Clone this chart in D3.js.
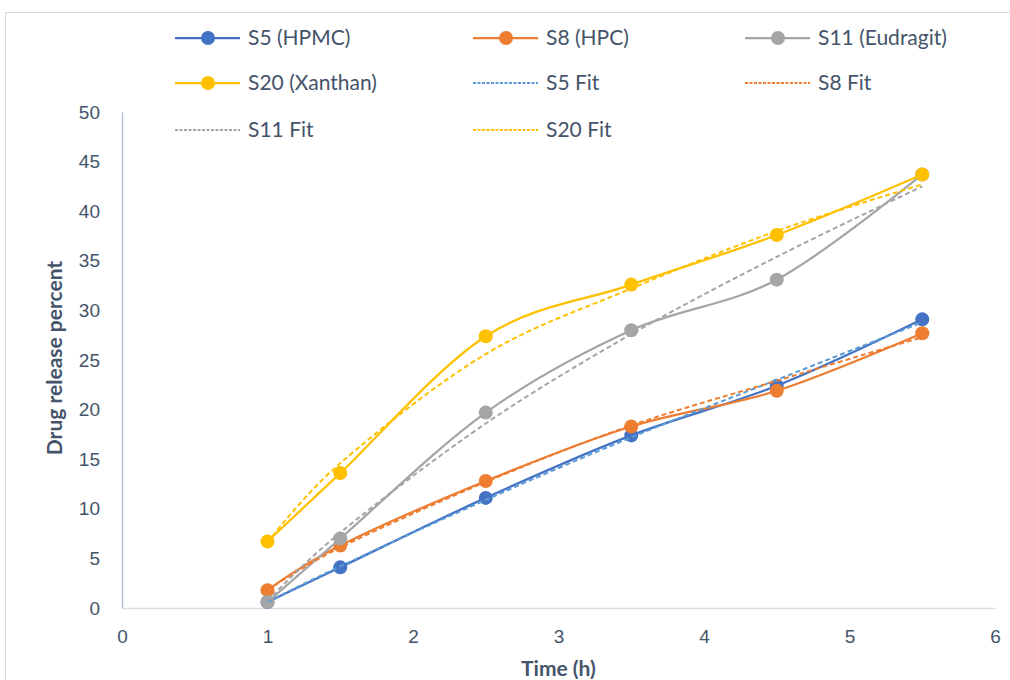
<!DOCTYPE html>
<html>
<head>
<meta charset="utf-8">
<script src="https://cdn.jsdelivr.net/npm/d3@7"></script>
<style>
  body { margin: 0; background: #fff; }
  svg { font-family: Lato, "Open Sans", sans-serif; }
</style>
</head>
<body>
<div id="chart"></div>
<script>
// data
const times = [1, 1.5, 2.5, 3.5, 4.5, 5.5];

const s5 = [0.6, 4.1, 11.1, 17.4, 22.4, 29.1];
const s8 = [1.8, 6.3, 12.8, 18.3, 21.9, 27.7];
const s11 = [0.6, 7.0, 19.7, 28.0, 33.1, 43.7];
const s20 = [6.7, 13.6, 27.4, 32.6, 37.6, 43.7];

const s5Fit = [0.6, 4.2, 10.9, 17.2, 23.0, 28.8];
const s8Fit = [1.8, 6.1, 12.7, 18.4, 22.9, 27.3];
const s11Fit = [0.7, 7.6, 18.6, 27.6, 35.4, 42.5];
const s20Fit = [6.6, 14.6, 25.6, 32.2, 38.0, 42.7];

const xTicks = [0, 1, 2, 3, 4, 5, 6];
const yTicks = [0, 5, 10, 15, 20, 25, 30, 35, 40, 45, 50];

const series = [
  {name: `S5 (HPMC)`, values: s5, color: `#4472C4`, fit: false},
  {name: `S8 (HPC)`, values: s8, color: `#ED7D31`, fit: false},
  {name: `S11 (Eudragit)`, values: s11, color: `#A5A5A5`, fit: false},
  {name: `S20 (Xanthan)`, values: s20, color: `#FFC000`, fit: false},
  {name: `S5 Fit`, values: s5Fit, color: `#5B9BD5`, fit: true},
  {name: `S8 Fit`, values: s8Fit, color: `#ED7D31`, fit: true},
  {name: `S11 Fit`, values: s11Fit, color: `#A5A5A5`, fit: true},
  {name: `S20 Fit`, values: s20Fit, color: `#FFC000`, fit: true},
];

const width = 1010;
const height = 680;
const margin = {top: 112, right: 15, bottom: 72, left: 122};
const textColor = `#44546A`;

const svg = d3.select(`#chart`).append(`svg`)
  .attr(`width`, width)
  .attr(`height`, height);

// chart area border
svg.append(`rect`)
  .attr(`x`, 5.5).attr(`y`, 12.5)
  .attr(`width`, width + 10).attr(`height`, height)
  .attr(`fill`, `none`)
  .attr(`stroke`, `#D9D9D9`);

const x = d3.scaleLinear().domain([0, 6]).range([margin.left, width - margin.right]);
const y = d3.scaleLinear().domain([0, 50]).range([height - margin.bottom, margin.top]);

// x axis
const xAxis = svg.append(`g`)
  .attr(`transform`, `translate(0,${y(0)})`)
  .call(d3.axisBottom(x).tickValues(xTicks).tickSize(0).tickPadding(22).tickFormat(d3.format(`d`)));
xAxis.select(`.domain`).attr(`stroke`, `#D9DEE6`).attr(`stroke-width`, 1.5);
xAxis.selectAll(`text`).attr(`fill`, textColor).style(`font-size`, `19px`);

// y axis
const yAxis = svg.append(`g`)
  .attr(`transform`, `translate(${x(0)},0)`)
  .call(d3.axisLeft(y).tickValues(yTicks).tickSize(0).tickPadding(22).tickFormat(d3.format(`d`)));
yAxis.select(`.domain`).attr(`stroke`, `#B4C0D8`).attr(`stroke-width`, 1.5);
yAxis.selectAll(`text`).attr(`fill`, textColor).style(`font-size`, `19px`);

// axis titles
svg.append(`text`)
  .attr(`x`, (x(0) + x(6)) / 2).attr(`y`, 676)
  .attr(`text-anchor`, `middle`)
  .attr(`fill`, textColor)
  .style(`font-size`, `21px`).style(`font-weight`, `bold`)
  .text(`Time (h)`);

svg.append(`text`)
  .attr(`transform`, `translate(62,358) rotate(-90)`)
  .attr(`text-anchor`, `middle`)
  .attr(`fill`, textColor)
  .style(`font-size`, `21px`).style(`font-weight`, `bold`)
  .text(`Drug release percent`);

const line = d3.line()
  .x(d => x(d[0]))
  .y(d => y(d[1]))
  .curve(d3.curveCardinal.tension(0));

const plot = svg.append(`g`);

series.filter(s => !s.fit).forEach(s => {
  const pts = times.map((t, i) => [t, s.values[i]]);
  plot.append(`path`)
    .attr(`d`, line(pts))
    .attr(`fill`, `none`)
    .attr(`stroke`, s.color)
    .attr(`stroke-width`, 2.25);
  plot.selectAll(null)
    .data(pts)
    .enter().append(`circle`)
      .attr(`cx`, d => x(d[0]))
      .attr(`cy`, d => y(d[1]))
      .attr(`r`, 7)
      .attr(`fill`, s.color);
});

series.filter(s => s.fit).forEach(s => {
  const pts = times.map((t, i) => [t, s.values[i]]);
  plot.append(`path`)
    .attr(`d`, line(pts))
    .attr(`fill`, `none`)
    .attr(`stroke`, s.color)
    .attr(`stroke-width`, 2)
    .attr(`stroke-dasharray`, `5,3`);
});

// legend, 3 columns
const legendCols = [175, 473, 745];
const legendRows = [38, 83, 130];
const legend = svg.append(`g`);

series.forEach((s, i) => {
  const lx = legendCols[i % 3];
  const ly = legendRows[Math.floor(i / 3)];
  const g = legend.append(`g`).attr(`transform`, `translate(${lx},${ly})`);
  g.append(`line`)
    .attr(`x1`, 0).attr(`x2`, 65)
    .attr(`stroke`, s.color)
    .attr(`stroke-width`, s.fit ? 2 : 2.25)
    .attr(`stroke-dasharray`, s.fit ? `3,1.5` : null);
  if (!s.fit) {
    g.append(`circle`).attr(`cx`, 33).attr(`r`, 7).attr(`fill`, s.color);
  }
  g.append(`text`)
    .attr(`x`, 73).attr(`dy`, `0.35em`)
    .attr(`fill`, textColor)
    .style(`font-size`, `21px`)
    .text(s.name);
});
</script>
</body>
</html>
